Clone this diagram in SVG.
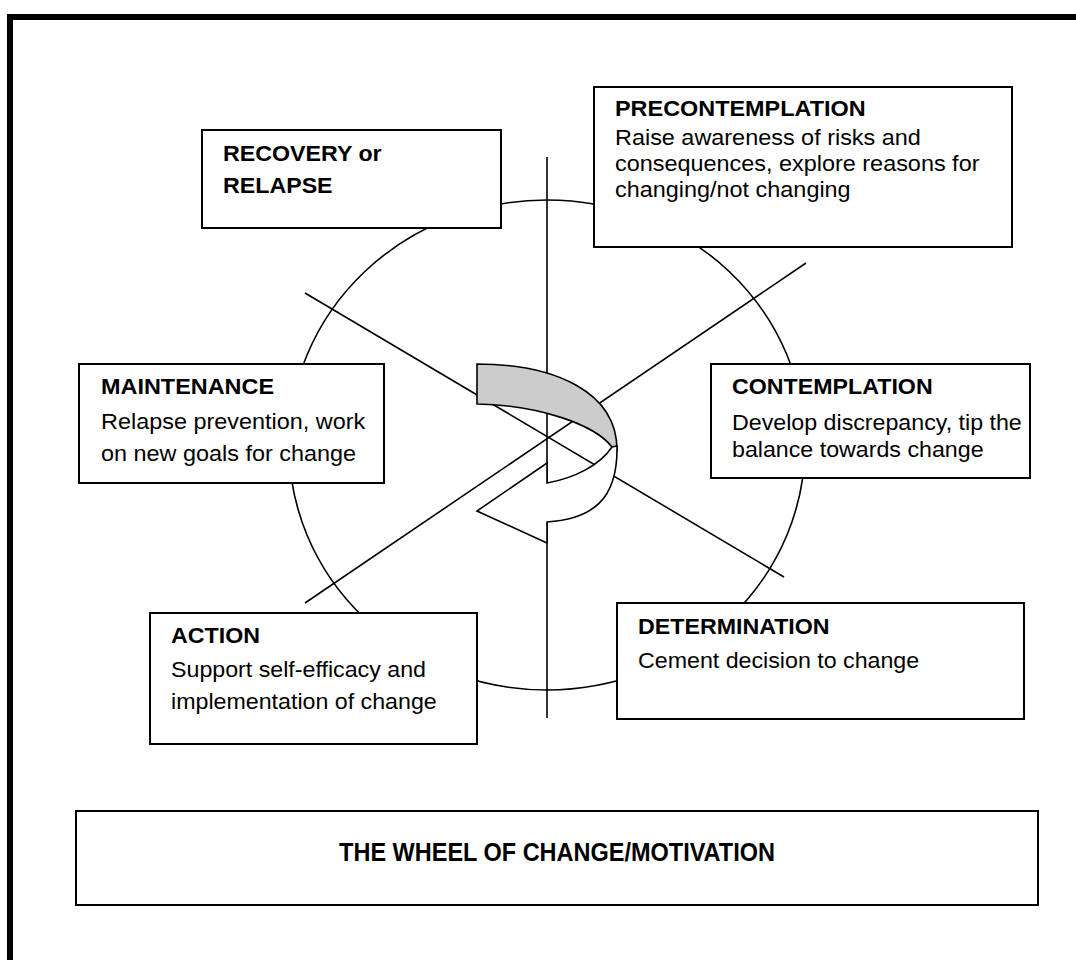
<svg xmlns="http://www.w3.org/2000/svg" width="1076" height="960" viewBox="0 0 1076 960">
  <style>
    .box { fill: #ffffff; stroke: #000000; stroke-width: 2; }
    .spoke { fill: none; stroke: #000000; stroke-width: 1.6; }
    .t { font-family: "Liberation Sans", Arial, sans-serif; font-size: 21.5px; fill: #000000; }
    .h { font-weight: bold; }
    .title { font-family: "Liberation Sans", Arial, sans-serif; font-size: 25px; font-weight: bold; fill: #000000; }
  </style>

  <rect x="0" y="0" width="1076" height="960" fill="#ffffff"/>

  <!-- page frame, open to the right and bottom -->
  <rect x="10" y="17" width="1100" height="1000" fill="none" stroke="#000000" stroke-width="6"/>

  <!-- wheel: rim and spokes -->
  <g id="connectors">
    <ellipse class="spoke" cx="547" cy="445" rx="258" ry="245"/>
    <line class="spoke" x1="547" y1="157" x2="547" y2="718"/>
    <line class="spoke" x1="305" y1="293" x2="784" y2="577"/>
    <line class="spoke" x1="305" y1="603" x2="806" y2="263"/>
  </g>

  <!-- curled arrow in the hub -->
  <g id="cycle-arrow" stroke="#000000" stroke-width="1.6" stroke-linejoin="miter">
    <path fill="#cccccc" d="M477,364 C555,364 617,392 617,450 L612,447 C595,425 540,405 477,404 Z"/>
    <path fill="#ffffff" d="M617,446 C618,500 592,519 547,522 L547,543 L477,511 L547,463 L547,483 C575,478 600,465 612,447 Z"/>
  </g>

  <g id="recovery">
    <rect class="box" x="202" y="130" width="299" height="98"/>
    <g transform="translate(223,0) scale(1.08,1)">
      <text class="t h" x="0" y="161">RECOVERY or</text>
      <text class="t h" x="0" y="193">RELAPSE</text>
    </g>
  </g>

  <g id="precontemplation">
    <rect class="box" x="594" y="87" width="418" height="160"/>
    <g transform="translate(615,0) scale(1.09,1)">
      <text class="t h" x="0" y="116">PRECONTEMPLATION</text>
      <text class="t" x="0" y="145">Raise awareness of risks and</text>
      <text class="t" x="0" y="171">consequences, explore reasons for</text>
      <text class="t" x="0" y="197">changing/not changing</text>
    </g>
  </g>

  <g id="maintenance">
    <rect class="box" x="79" y="364" width="305" height="119"/>
    <g transform="translate(101,0) scale(1.09,1)">
      <text class="t h" x="0" y="394">MAINTENANCE</text>
      <text class="t" x="0" y="429">Relapse prevention, work</text>
      <text class="t" x="0" y="461">on new goals for change</text>
    </g>
  </g>

  <g id="contemplation">
    <rect class="box" x="711" y="364" width="319" height="114"/>
    <g transform="translate(732,0) scale(1.08,1)">
      <text class="t h" x="0" y="394">CONTEMPLATION</text>
      <text class="t" x="0" y="430">Develop discrepancy, tip the</text>
      <text class="t" x="0" y="457">balance towards change</text>
    </g>
  </g>

  <g id="action">
    <rect class="box" x="150" y="613" width="327" height="131"/>
    <g transform="translate(171,0) scale(1.08,1)">
      <text class="t h" x="0" y="643">ACTION</text>
      <text class="t" x="0" y="677">Support self-efficacy and</text>
      <text class="t" x="0" y="709">implementation of change</text>
    </g>
  </g>

  <g id="determination">
    <rect class="box" x="617" y="603" width="407" height="116"/>
    <g transform="translate(638,0) scale(1.08,1)">
      <text class="t h" x="0" y="634">DETERMINATION</text>
      <text class="t" x="0" y="668">Cement decision to change</text>
    </g>
  </g>

  <g id="title">
    <rect class="box" x="76" y="811" width="962" height="94"/>
    <g transform="translate(557,0) scale(0.94,1)">
      <text class="title" x="0" y="861" text-anchor="middle">THE WHEEL OF CHANGE/MOTIVATION</text>
    </g>
  </g>
</svg>
